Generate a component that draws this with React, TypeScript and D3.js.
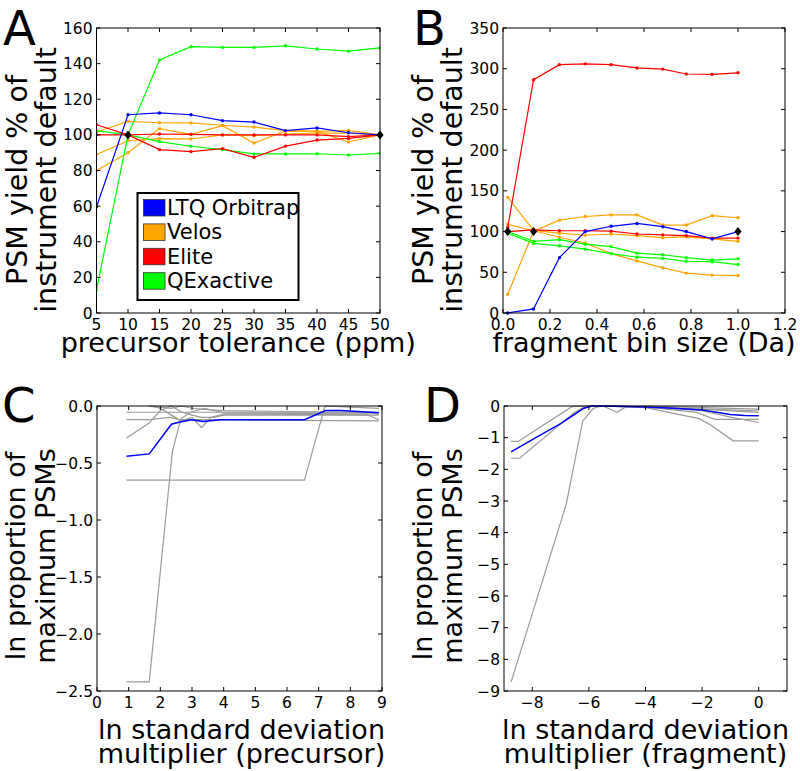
import React from 'react';
import * as d3 from 'd3';

const FONT = "'DejaVu Sans', sans-serif";

// ---------- Panel A: precursor tolerance ----------
const tolerancePpm = [5, 10, 15, 20, 25, 30, 35, 40, 45, 50];
const aLTQ = [[59.5, 111.3, 112.3, 111.3, 108, 107.2, 102.4, 103.9, 101.2, 100]];
const aVelos = [
  [80, 90, 103.5, 100.3, 105.2, 95.4, 102.2, 102, 96, 100],
  [89, 96.7, 97.9, 97.7, 100, 99.5, 100.5, 101, 101, 100],
  [101.6, 107.6, 106.8, 106.7, 105.4, 104.4, 102.4, 102, 102.5, 100],
];
const aElite = [
  [105.7, 100, 91.7, 90.6, 92.3, 87.4, 93.7, 97.1, 98, 100],
  [100, 100, 100.5, 100.3, 100, 100, 100, 100, 99, 100],
];
const aQE = [
  [13, 100, 142, 149.5, 149.1, 149.1, 150, 148.2, 147, 148.8],
  [102.4, 100, 96.2, 93.6, 91.7, 89.3, 89.3, 89.4, 88.7, 89.6],
];
const aDefaults = [[10, 100], [50, 100]];
const aXTicks = [5, 10, 15, 20, 25, 30, 35, 40, 45, 50];
const aYTicks = [0, 20, 40, 60, 80, 100, 120, 140, 160];

// ---------- Panel B: fragment bin size ----------
const binSizeDa = [0.02, 0.13, 0.24, 0.35, 0.46, 0.57, 0.68, 0.78, 0.89, 1.0];
const bLTQ = [[0, 5, 68, 100, 106.5, 110, 106, 100, 91, 100]];
const bVelos = [
  [23, 100.5, 114, 118.5, 120.5, 120.5, 108, 108, 119.5, 117],
  [142, 101.5, 98, 95.5, 97, 95, 92.5, 93.5, 91, 88],
  [109, 101, 93, 86, 73, 64, 55.5, 49, 46.5, 46],
];
const bElite = [
  [105, 286.5, 305, 306, 305, 301, 299.5, 293.5, 293, 295],
  [100, 102, 101, 101, 100.5, 97, 96, 95, 92, 92],
];
const bQE = [
  [100, 88, 90, 84.5, 81.5, 73.5, 71.5, 68, 65, 66.5],
  [98, 85.5, 82.5, 78.5, 73, 68.5, 67, 63.5, 63, 59.5],
];
const bDefaults = [[0.02, 100], [0.13, 100], [1.0, 100]];
const bXTicks = [0, 0.2, 0.4, 0.6, 0.8, 1.0, 1.2];
const bYTicks = [0, 50, 100, 150, 200, 250, 300, 350];

// ---------- Panel C: precursor SD multiplier ----------
const cHighlight = [
  [0.93, -0.44], [1.65, -0.42], [2.35, -0.16], [2.62, -0.14], [2.98, -0.12], [3.35, -0.135],
  [3.9, -0.12], [6.55, -0.12], [7.22, -0.04], [7.7, -0.04], [8.1, -0.045], [8.9, -0.06],
];
const cOthers = [
  [[0.93, -2.42], [1.65, -2.42], [2.38, -0.4], [2.65, -0.11], [3.0, -0.05], [3.4, -0.02], [4.0, -0.06], [8.9, -0.07]],
  [[0.93, -0.65], [6.55, -0.65], [7.2, 0], [8.0, -0.01], [8.9, -0.02]],
  [[0.93, -0.28], [1.65, -0.15], [2.0, -0.04], [2.35, 0], [2.65, -0.05], [3.0, -0.08], [3.3, -0.1], [3.7, -0.1], [4.0, -0.08], [8.9, -0.08]],
  [[0.93, -0.12], [1.65, -0.12], [2.3, -0.1], [2.6, -0.12], [3.0, -0.12], [8.9, -0.13]],
  [[0.93, -0.055], [3.0, -0.055], [8.9, -0.055]],
  [[1.65, 0], [2.0, -0.02], [2.35, -0.08], [2.65, -0.13], [3.0, -0.1], [3.3, -0.19], [3.6, -0.1], [4.0, -0.07], [8.5, -0.075], [8.9, -0.12]],
  [[1.65, 0], [2.35, -0.02], [2.65, 0], [3.0, -0.02], [3.35, -0.03], [4.0, -0.04], [8.9, -0.06]],
];
const cXTicks = [0, 1, 2, 3, 4, 5, 6, 7, 8, 9];
const cYTicks = [-2.5, -2.0, -1.5, -1.0, -0.5, 0.0];

// ---------- Panel D: fragment SD multiplier ----------
const dHighlight = [
  [-8.75, -1.45], [-8.0, -1.06], [-7.0, -0.56], [-6.2, -0.08], [-5.9, 0], [-5.5, 0], [-5.0, -0.01],
  [-4.0, -0.03], [-3.0, -0.07], [-2.0, -0.13], [-1.0, -0.27], [-0.5, -0.3], [0, -0.31],
];
const dOthers = [
  [[-8.75, -8.72], [-6.8, -3.1], [-6.22, -0.48], [-5.85, -0.08], [-5.55, 0], [-5.0, 0], [-4.0, -0.05], [-2.0, -0.1], [0, -0.15]],
  [[-8.75, -1.12], [-8.5, -1.12], [-6.6, -0.02], [-6.0, 0], [-5.5, 0], [-5.0, -0.2], [-4.7, -0.03], [-4.0, 0], [-2.0, -0.05], [0, -0.1]],
  [[-8.75, -1.65], [-8.45, -1.65], [-6.5, -0.2], [-6.2, -0.05], [-5.8, 0], [-4.0, -0.02], [-2.0, -0.1], [0, -0.2]],
  [[-6.1, 0], [-5.5, 0], [-5.0, -0.02], [-4.0, -0.05], [-2.1, -0.4], [-1.7, -0.6], [-0.9, -1.1], [0, -1.1]],
  [[-6.0, 0], [-4.0, -0.03], [-2.2, -0.2], [-1.55, -0.42], [0, -0.42]],
  [[-6.0, 0], [-4.0, -0.02], [-2.0, -0.15], [-1.0, -0.35], [0, -0.52]],
];
const dXTicks = [-8, -6, -4, -2, 0];
const dYTicks = [-9, -8, -7, -6, -5, -4, -3, -2, -1, 0];

// legend
const legendNames = ['LTQ Orbitrap', 'Velos', 'Elite', 'QExactive'];
const legendColors = ['#0000ff', '#ffa500', '#ff0000', '#00ff00'];

const minus = (s: string) => s.replace('-', '\u2212');

type Box = { left: number; right: number; top: number; bottom: number };

function Frame({ box, x, y, xTicks, yTicks, xFmt, yFmt }: any) {
  const t = 4;
  return (
    <g>
      <rect x={box.left} y={box.top} width={box.right - box.left} height={box.bottom - box.top}
        fill="none" stroke="#000" strokeWidth={1} />
      {xTicks.map((v: number) => (
        <g key={'x' + v}>
          <line x1={x(v)} x2={x(v)} y1={box.bottom} y2={box.bottom - t} stroke="#000" />
          <line x1={x(v)} x2={x(v)} y1={box.top} y2={box.top + t} stroke="#000" />
          <text x={x(v)} y={box.bottom + 17} textAnchor="middle" fontSize={15.5} fontFamily={FONT}>{xFmt(v)}</text>
        </g>
      ))}
      {yTicks.map((v: number) => (
        <g key={'y' + v}>
          <line x1={box.left} x2={box.left + t} y1={y(v)} y2={y(v)} stroke="#000" />
          <line x1={box.right} x2={box.right - t} y1={y(v)} y2={y(v)} stroke="#000" />
          <text x={box.left - 4} y={y(v) + 5.5} textAnchor="end" fontSize={15.5} fontFamily={FONT}>{yFmt(v)}</text>
        </g>
      ))}
    </g>
  );
}

function YLabel({ left, cy, lines, size, o1, o2 }: { left: number; cy: number; lines: string[]; size: number; o1: number; o2: number }) {
  return (
    <g>
      <text transform={`translate(${left - o1},${cy}) rotate(-90)`} textAnchor="middle" fontSize={size} fontFamily={FONT}>{lines[0]}</text>
      <text transform={`translate(${left - o2},${cy}) rotate(-90)`} textAnchor="middle" fontSize={size} fontFamily={FONT}>{lines[1]}</text>
    </g>
  );
}

function SeriesGroup({ xs, series, color, x, y }: any) {
  const line = d3.line<number>().x((_, i) => x(xs[i])).y((d) => y(d));
  return (
    <g>
      {series.map((s: number[], k: number) => (
        <g key={k}>
          <path d={line(s) || ''} fill="none" stroke={color} strokeWidth={1.2} />
          {s.map((v, i) => (
            <circle key={i} cx={x(xs[i])} cy={y(v)} r={1.7} fill={color} />
          ))}
        </g>
      ))}
    </g>
  );
}

function Diamonds({ pts, x, y }: any) {
  return (
    <g>
      {pts.map((p: number[], i: number) => {
        const cx = x(p[0]);
        const cy = y(p[1]);
        const r = 4.5;
        return <path key={i} d={`M${cx},${cy - r}L${cx + r * 0.8},${cy}L${cx},${cy + r}L${cx - r * 0.8},${cy}Z`} fill="#000" />;
      })}
    </g>
  );
}

export default function App() {
  const boxA: Box = { left: 96.5, right: 380, top: 28, bottom: 313 };
  const boxB: Box = { left: 503, right: 785, top: 28, bottom: 313 };
  const boxC: Box = { left: 97, right: 382, top: 406, bottom: 691 };
  const boxD: Box = { left: 504, right: 787, top: 406, bottom: 691 };

  const xA = d3.scaleLinear().domain([5, 50]).range([boxA.left, boxA.right]);
  const yA = d3.scaleLinear().domain([0, 160]).range([boxA.bottom, boxA.top]);
  const xB = d3.scaleLinear().domain([0, 1.2]).range([boxB.left, boxB.right]);
  const yB = d3.scaleLinear().domain([0, 350]).range([boxB.bottom, boxB.top]);
  const xC = d3.scaleLinear().domain([0, 9]).range([boxC.left, boxC.right]);
  const yC = d3.scaleLinear().domain([-2.5, 0]).range([boxC.bottom, boxC.top]);
  const xD = d3.scaleLinear().domain([-9, 1]).range([boxD.left, boxD.right]);
  const yD = d3.scaleLinear().domain([-9, 0]).range([boxD.bottom, boxD.top]);

  const ptLine = (x: any, y: any) => d3.line<number[]>().x((d) => x(d[0])).y((d) => y(d[1]));
  const lineC = ptLine(xC, yC);
  const lineD = ptLine(xD, yD);

  const gray = '#9a9a9a';

  return (
    <svg width={800} height={771} style={{ position: 'absolute', left: 0, top: 0, background: '#fff' }}>
      <rect x={0} y={0} width={800} height={771} fill="#fff" />

      {/* Panel A */}
      <g>
        <defs>
          <clipPath id="clipA"><rect x={boxA.left} y={boxA.top} width={boxA.right - boxA.left} height={boxA.bottom - boxA.top} /></clipPath>
        </defs>
        <g clipPath="url(#clipA)">
          <SeriesGroup xs={tolerancePpm} series={aVelos} color="#ffa500" x={xA} y={yA} />
          <SeriesGroup xs={tolerancePpm} series={aQE} color="#00ff00" x={xA} y={yA} />
          <SeriesGroup xs={tolerancePpm} series={aElite} color="#ff0000" x={xA} y={yA} />
          <SeriesGroup xs={tolerancePpm} series={aLTQ} color="#0000ff" x={xA} y={yA} />
        </g>
        <Diamonds pts={aDefaults} x={xA} y={yA} />
        <Frame box={boxA} x={xA} y={yA} xTicks={aXTicks} yTicks={aYTicks} xFmt={(v: number) => String(v)} yFmt={(v: number) => String(v)} />
        <g>
          <rect x={137.5} y={193} width={161} height={107} fill="#fff" stroke="#000" strokeWidth={2} />
          {legendNames.map((n, i) => (
            <g key={n}>
              <rect x={143.5} y={199.5 + i * 24.4} width={21.5} height={16.5} fill={legendColors[i]} stroke="#333" strokeWidth={0.8} />
              <text x={167} y={215 + i * 24.4} fontSize={21} fontFamily={FONT}>{n}</text>
            </g>
          ))}
        </g>
        <YLabel left={boxA.left} cy={180} size={28.5} o1={70} o2={41} lines={['PSM yield % of', 'instrument default']} />
        <text x={(boxA.left + boxA.right) / 2} y={352} textAnchor="middle" fontSize={27} fontFamily={FONT}>precursor tolerance (ppm)</text>
        <text x={3} y={44.5} fontSize={48} fontFamily={FONT}>A</text>
      </g>

      {/* Panel B */}
      <g>
        <SeriesGroup xs={binSizeDa} series={bVelos} color="#ffa500" x={xB} y={yB} />
        <SeriesGroup xs={binSizeDa} series={bQE} color="#00ff00" x={xB} y={yB} />
        <SeriesGroup xs={binSizeDa} series={bElite} color="#ff0000" x={xB} y={yB} />
        <SeriesGroup xs={binSizeDa} series={bLTQ} color="#0000ff" x={xB} y={yB} />
        <Diamonds pts={bDefaults} x={xB} y={yB} />
        <Frame box={boxB} x={xB} y={yB} xTicks={bXTicks} yTicks={bYTicks} xFmt={(v: number) => v.toFixed(1)} yFmt={(v: number) => String(v)} />
        <YLabel left={boxB.left} cy={180} size={28.5} o1={70} o2={41} lines={['PSM yield % of', 'instrument default']} />
        <text x={(boxB.left + boxB.right) / 2} y={352} textAnchor="middle" fontSize={27} fontFamily={FONT}>fragment bin size (Da)</text>
        <text x={413} y={44.5} fontSize={48} fontFamily={FONT}>B</text>
      </g>

      {/* Panel C */}
      <g>
        {cOthers.map((l, i) => (
          <path key={i} d={lineC(l) || ''} fill="none" stroke={gray} strokeWidth={1.2} />
        ))}
        <path d={lineC(cHighlight) || ''} fill="none" stroke="#0000ff" strokeWidth={1.5} />
        <Frame box={boxC} x={xC} y={yC} xTicks={cXTicks} yTicks={cYTicks} xFmt={(v: number) => String(v)} yFmt={(v: number) => minus(v.toFixed(1))} />
        <YLabel left={boxC.left} cy={556} size={27} o1={72} o2={42} lines={['ln proportion of', 'maximum PSMs']} />
        <text x={(boxC.left + boxC.right) / 2 + 2} y={739} textAnchor="middle" fontSize={27} fontFamily={FONT}>ln standard deviation</text>
        <text x={(boxC.left + boxC.right) / 2 + 2} y={763} textAnchor="middle" fontSize={27} fontFamily={FONT}>multiplier (precursor)</text>
        <text x={2} y={422} fontSize={48} fontFamily={FONT}>C</text>
      </g>

      {/* Panel D */}
      <g>
        {dOthers.map((l, i) => (
          <path key={i} d={lineD(l) || ''} fill="none" stroke={gray} strokeWidth={1.2} />
        ))}
        <path d={lineD(dHighlight) || ''} fill="none" stroke="#0000ff" strokeWidth={1.5} />
        <Frame box={boxD} x={xD} y={yD} xTicks={dXTicks} yTicks={dYTicks} xFmt={(v: number) => minus(String(v))} yFmt={(v: number) => minus(String(v))} />
        <YLabel left={boxD.left} cy={556} size={27} o1={72} o2={42} lines={['ln proportion of', 'maximum PSMs']} />
        <text x={(boxD.left + boxD.right) / 2} y={739} textAnchor="middle" fontSize={27} fontFamily={FONT}>ln standard deviation</text>
        <text x={(boxD.left + boxD.right) / 2} y={763} textAnchor="middle" fontSize={27} fontFamily={FONT}>multiplier (fragment)</text>
        <text x={424} y={422} fontSize={48} fontFamily={FONT}>D</text>
      </g>
    </svg>
  );
}
